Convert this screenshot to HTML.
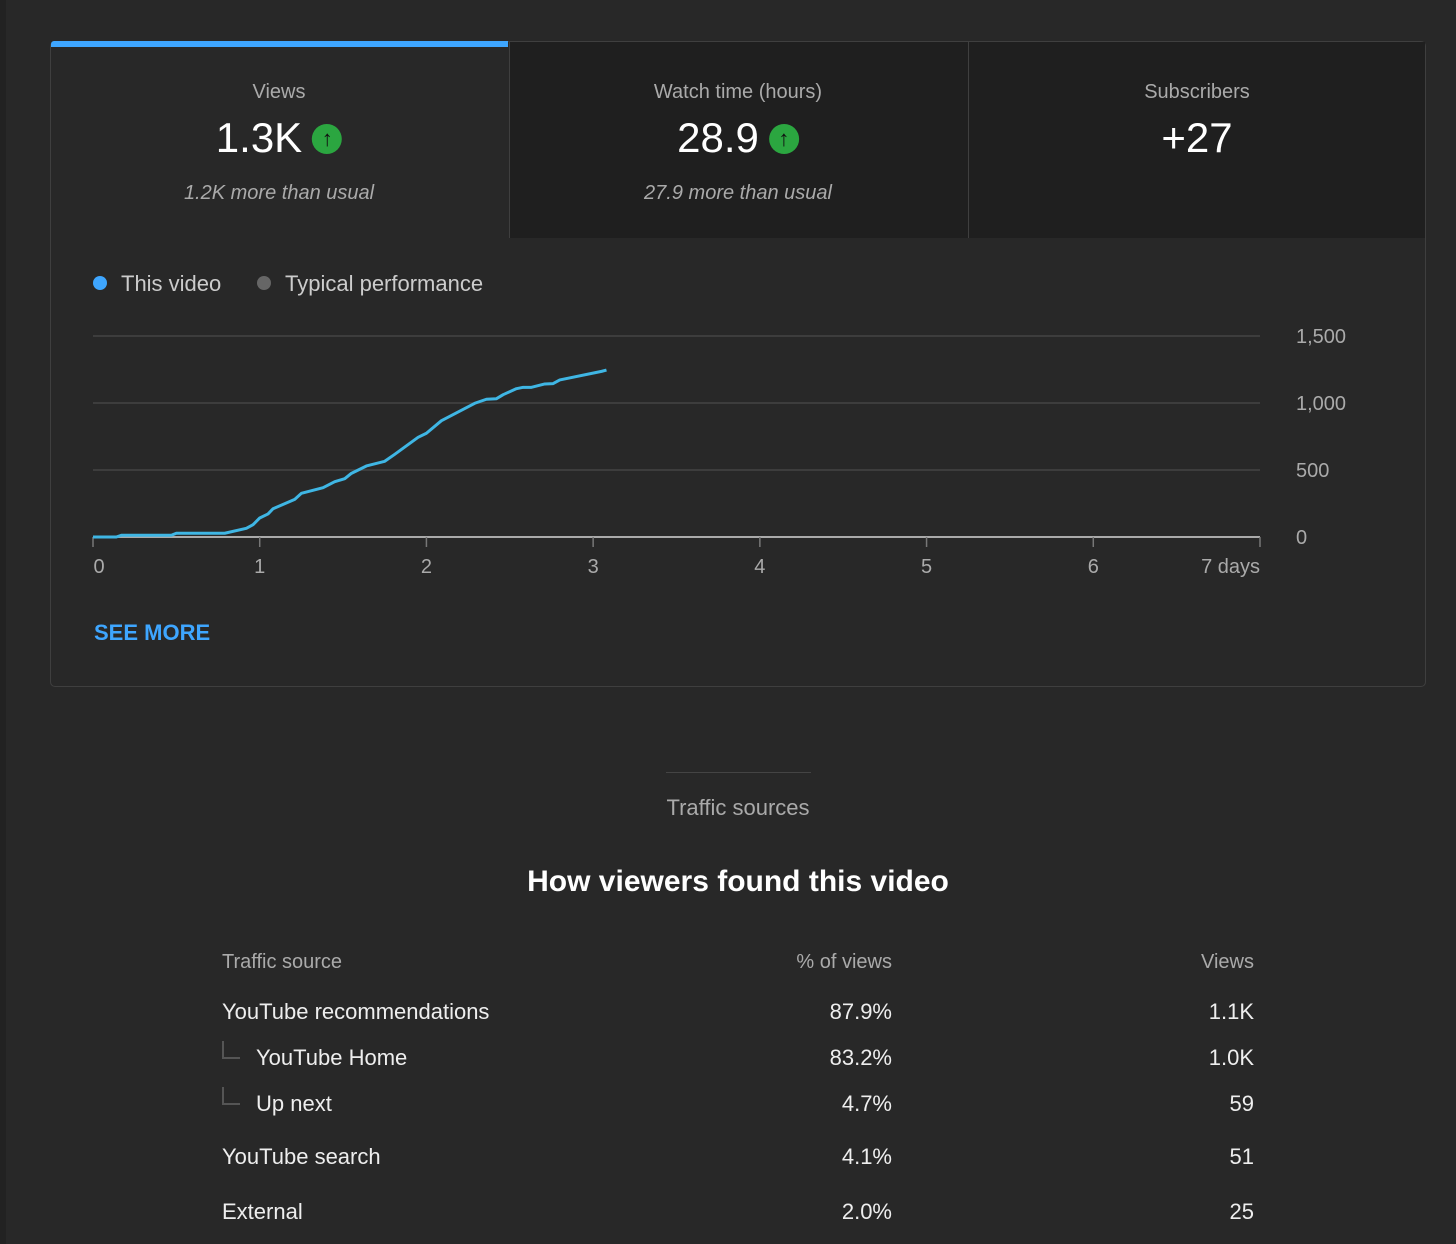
<!DOCTYPE html>
<html><head><meta charset="utf-8"><style>
*{box-sizing:border-box;margin:0;padding:0}
body{width:1456px;height:1244px;background:#282828;font-family:"Liberation Sans",sans-serif;position:relative;overflow:hidden;color:#fff}
.a{position:absolute;white-space:nowrap}
.c{transform:translateX(-50%)}
.r{transform:translateX(-100%)}
.lbl{font-size:20px;color:#aaa}
.big{font-size:42px;color:#fff}
.sub{font-size:20px;color:#aaa;font-style:italic}
.up{display:inline-block;width:30px;height:30px;border-radius:50%;background:#2ba640;color:#111;font-size:22px;line-height:30px;text-align:center;font-weight:bold;vertical-align:6px;margin-left:10px}
.row{font-size:22px;color:#eee}
.conn{position:absolute;width:18px;height:18px;border-left:2px solid #555;border-bottom:2px solid #555}
</style></head><body>
<div class="a" style="left:0;top:0;width:6px;height:1244px;background:#222"></div>
<div class="a" style="left:50px;top:41px;width:1376px;height:646px;border:1px solid #3f3f3f;border-radius:5px"></div>
<div class="a" style="left:51px;top:42px;width:457px;height:196px;background:#282828"></div>
<div class="a" style="left:51px;top:41px;width:457px;height:6px;background:#3ea6ff;border-radius:3px 0 0 0"></div>
<div class="a" style="left:509px;top:42px;width:459px;height:196px;background:#1f1f1f;border-left:1px solid #3f3f3f"></div>
<div class="a" style="left:968px;top:42px;width:457px;height:196px;background:#1f1f1f;border-left:1px solid #3f3f3f"></div>

<div class="a c lbl" style="left:279px;top:81px">Views</div>
<div class="a c big" style="left:279px;top:114px">1.3K<span class="up">↑</span></div>
<div class="a c sub" style="left:279px;top:182px">1.2K more than usual</div>
<div class="a c lbl" style="left:738px;top:81px">Watch time (hours)</div>
<div class="a c big" style="left:738px;top:114px">28.9<span class="up">↑</span></div>
<div class="a c sub" style="left:738px;top:182px">27.9 more than usual</div>
<div class="a c lbl" style="left:1197px;top:81px">Subscribers</div>
<div class="a c big" style="left:1197px;top:114px">+27</div>

<div class="a" style="left:93px;top:271px;font-size:22px;color:#ccc"><span style="display:inline-block;width:14px;height:14px;border-radius:50%;background:#3ea6ff;margin-right:14px;vertical-align:1px"></span>This video</div>
<div class="a" style="left:257px;top:271px;font-size:22px;color:#ccc"><span style="display:inline-block;width:14px;height:14px;border-radius:50%;background:#666;margin-right:14px;vertical-align:1px"></span>Typical performance</div>

<svg class="a" id="chart" style="left:0;top:0" width="1456" height="600"></svg>

<div class="a" style="left:94px;top:620px;font-size:22px;font-weight:bold;color:#3ea6ff">SEE MORE</div>

<div class="a" style="left:666px;top:772px;width:145px;height:1px;background:#444"></div>
<div class="a c" style="left:738px;top:795px;font-size:22px;color:#aaa">Traffic sources</div>
<div class="a c" style="left:738px;top:865px;font-size:30px;font-weight:bold;color:#fff">How viewers found this video</div>

<div class="a lbl" style="left:222px;top:951px">Traffic source</div>
<div class="a r lbl" style="left:892px;top:951px">% of views</div>
<div class="a r lbl" style="left:1254px;top:951px">Views</div>

<div class="a row" style="left:222px;top:999px">YouTube recommendations</div>
<div class="a r row" style="left:892px;top:999px">87.9%</div>
<div class="a r row" style="left:1254px;top:999px">1.1K</div>

<div class="conn" style="left:222px;top:1041px"></div>
<div class="a row" style="left:256px;top:1045px">YouTube Home</div>
<div class="a r row" style="left:892px;top:1045px">83.2%</div>
<div class="a r row" style="left:1254px;top:1045px">1.0K</div>

<div class="conn" style="left:222px;top:1087px"></div>
<div class="a row" style="left:256px;top:1091px">Up next</div>
<div class="a r row" style="left:892px;top:1091px">4.7%</div>
<div class="a r row" style="left:1254px;top:1091px">59</div>

<div class="a row" style="left:222px;top:1144px">YouTube search</div>
<div class="a r row" style="left:892px;top:1144px">4.1%</div>
<div class="a r row" style="left:1254px;top:1144px">51</div>

<div class="a row" style="left:222px;top:1199px">External</div>
<div class="a r row" style="left:892px;top:1199px">2.0%</div>
<div class="a r row" style="left:1254px;top:1199px">25</div>

<script>
const days=[0,0.14,0.17,0.47,0.50,0.79,0.92,0.96,1.00,1.05,1.08,1.21,1.25,1.38,1.45,1.51,1.55,1.64,1.75,1.81,1.95,2.00,2.09,2.29,2.36,2.42,2.46,2.54,2.58,2.63,2.71,2.76,2.80,3.05,3.08];
const views=[0,0,13,13,28,28,65,92,142,172,211,281,326,368,413,435,475,530,565,617,744,774,868,998,1028,1032,1062,1107,1117,1117,1142,1145,1172,1236,1246];
const yTicks=[0,500,1000,1500];
const yTickLabels=["0","500","1,000","1,500"];
const xTicks=[0,1,2,3,4,5,6,7];
const xTickLabels=["0","1","2","3","4","5","6","7 days"];
const NS="http://www.w3.org/2000/svg";
const svg=document.getElementById('chart');
const X=d=>93+d*(1260-93)/7;
const Y=v=>537-v*(537-336)/1500;
function mk(t,a){const e=document.createElementNS(NS,t);for(const k in a)e.setAttribute(k,a[k]);svg.appendChild(e);return e;}
yTicks.forEach((v,i)=>{
  const l=mk('line',{x1:93,x2:1260,y1:Y(v),y2:Y(v),stroke:v===0?'#aaa':'#444','stroke-width':v===0?2:1.5});
  
  
  const t=mk('text',{x:1296,y:Y(v)+7,fill:'#aaa','font-size':20,'font-family':'Liberation Sans, sans-serif'});
  t.textContent=yTickLabels[i];
  
  
});
xTicks.forEach((d,i)=>{
  const l=mk('line',{x1:X(d),x2:X(d),y1:537,y2:547,stroke:'#777','stroke-width':1.5});
  
  
  const last=i===xTicks.length-1;
  const t=mk('text',{x:last?X(d):X(d)+(i===0?6:0),y:573,fill:'#aaa','font-size':20,'font-family':'Liberation Sans, sans-serif','text-anchor':last?'end':'middle'});
  t.textContent=xTickLabels[i];
  
  
});
const p=mk('polyline',{points:days.map((d,i)=>X(d)+','+Y(views[i])).join(' '),fill:'none',stroke:'#3fb6e4','stroke-width':3,'stroke-linejoin':'round'});


</script>
</body></html>
